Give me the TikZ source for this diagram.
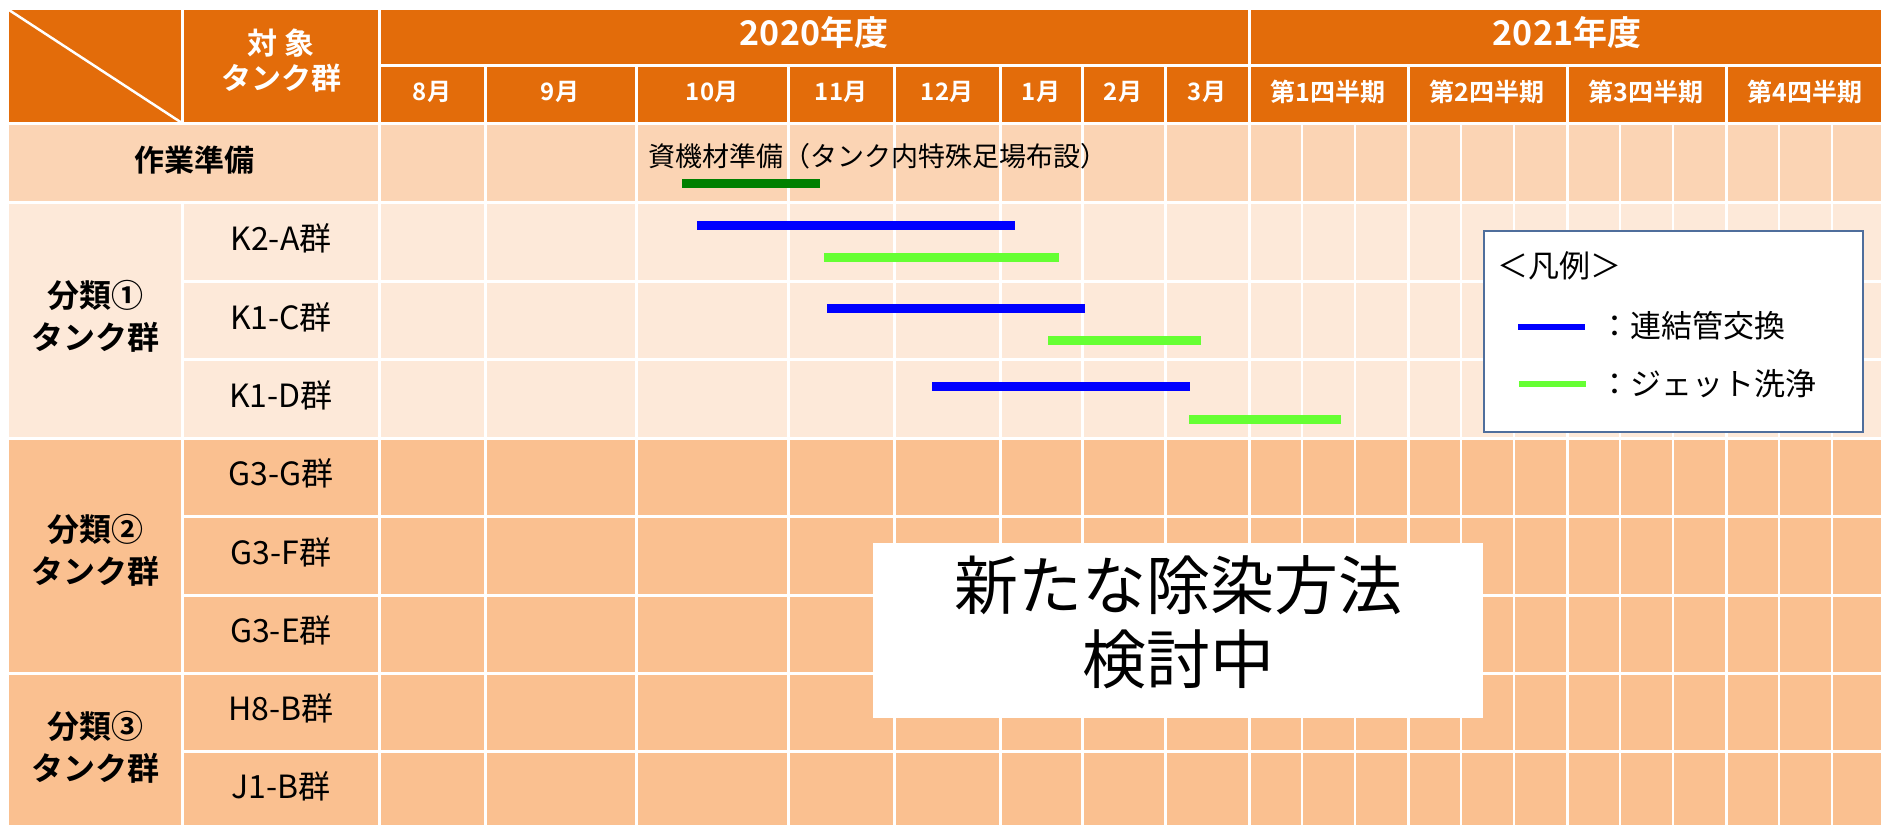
\documentclass[tikz,border=0pt]{standalone}
\usepackage{fontspec}
\setmainfont{Noto Sans CJK JP}[BoldFont={Noto Sans CJK JP Bold}]
\definecolor{hdrorange}{HTML}{E36C0A}
\definecolor{rowprep}{HTML}{FBD4B4}
\definecolor{rowone}{HTML}{FDE9D9}
\definecolor{rowtwo}{HTML}{FAC090}
\definecolor{barblue}{HTML}{0000FF}
\definecolor{bargreen}{HTML}{66FF33}
\definecolor{prepgreen}{HTML}{008000}
\definecolor{legborder}{HTML}{4F6E9C}
\begin{document}
\begin{tikzpicture}[x=1pt,y=-1pt,
  gridline/.style={white, line width=3pt},
  thinline/.style={white, line width=1.5pt},
  yeartxt/.style={text=white, font=\bfseries\fontsize{34}{38}\selectfont, inner sep=0pt},
  monthtxt/.style={text=white, font=\bfseries\fontsize{24}{28}\selectfont, inner sep=0pt},
  quartertxt/.style={text=white, font=\bfseries\fontsize{25}{28}\selectfont, inner sep=0pt},
  cattxt/.style={font=\bfseries\fontsize{32}{42}\selectfont, align=center, inner sep=0pt},
  rowtxt/.style={font=\fontsize{32}{36}\selectfont, inner sep=0pt},
  bar/.style={line width=9pt},
  legline/.style={line width=6pt},
  legtxt/.style={font=\fontsize{31}{34}\selectfont, anchor=west, inner sep=0pt}]
\useasboundingbox (0,0) rectangle (1881,825);
\clip (0,0) rectangle (1881,825);
\fill[white] (0,0) rectangle (1881,825);
% background bands
\fill[hdrorange] (9,10) rectangle (1881,123);
\fill[rowprep] (9,123) rectangle (1881,202);
\fill[rowone] (9,202) rectangle (1881,438);
\fill[rowtwo] (9,438) rectangle (1881,825);
% horizontal grid lines
\draw[gridline] (379,65) -- (1881,65);
\foreach \y in {123,202,438,673} \draw[gridline] (9,\y) -- (1881,\y);
\foreach \y in {281,359,516,595,751} \draw[gridline] (182,\y) -- (1881,\y);
% vertical grid lines
\draw[gridline] (182,10) -- (182,123);
\draw[gridline] (182,202) -- (182,825);
\foreach \x in {379,1249} \draw[gridline] (\x,10) -- (\x,825);
\foreach \x in {485,636,788,894,1000,1082,1165,1408,1567,1726} \draw[gridline] (\x,65) -- (\x,825);
\foreach \x in {1302,1355,1461,1514,1620,1673,1779,1832} \draw[thinline] (\x,123) -- (\x,825);
% diagonal
\draw[white, line width=2.5pt] (9,10) -- (182,123);
% header texts
\node[yeartxt] (y2020) at (814,33) {2020年度};
\node[yeartxt] (y2021) at (1567,33) {2021年度};
\node[monthtxt] (m8) at (432,92) {8月};
\node[monthtxt] (m9) at (560,92) {9月};
\node[monthtxt] (m10) at (712,92) {10月};
\node[monthtxt] (m11) at (841,92) {11月};
\node[monthtxt] (m12) at (947,92) {12月};
\node[monthtxt] (m1) at (1041,92) {1月};
\node[monthtxt] (m2) at (1123,92) {2月};
\node[monthtxt] (m3) at (1207,92) {3月};
\node[quartertxt] (q1) at (1328,92) {第1四半期};
\node[quartertxt] (q2) at (1487,92) {第2四半期};
\node[quartertxt] (q3) at (1646,92) {第3四半期};
\node[quartertxt] (q4) at (1805,92) {第4四半期};
\node[cattxt, text=white, font=\bfseries\fontsize{30}{35}\selectfont] (target) at (281,61) {対 象\\タンク群};
% left column
\node[cattxt, font=\bfseries\fontsize{30}{36}\selectfont] (prep) at (194,160) {作業準備};
\node[cattxt] (cat1) at (95,316) {分類①\\タンク群};
\node[cattxt] (cat2) at (95,550) {分類②\\タンク群};
\node[cattxt] (cat3) at (95,747) {分類③\\タンク群};
\node[rowtxt] (k2a) at (281,238) {K2-A群};
\node[rowtxt] (k1c) at (281,317) {K1-C群};
\node[rowtxt] (k1d) at (281,395) {K1-D群};
\node[rowtxt] (g3g) at (281,473) {G3-G群};
\node[rowtxt] (g3f) at (281,552) {G3-F群};
\node[rowtxt] (g3e) at (281,630) {G3-E群};
\node[rowtxt] (h8b) at (281,708) {H8-B群};
\node[rowtxt] (j1b) at (281,786) {J1-B群};
% prep label and bar
\node[font=\fontsize{27}{30}\selectfont, anchor=west, inner sep=0pt] (preplabel) at (648,156) {資機材準備（タンク内特殊足場布設）};
\coordinate (ps) at (682,183.5); \coordinate (pe) at (820,183.5);
\draw[bar, prepgreen] (ps) -- (pe);
% gantt bars
\coordinate (a1) at (697,225); \coordinate (a2) at (1015,225);
\coordinate (b1) at (824,257.5); \coordinate (b2) at (1059,257.5);
\coordinate (c1) at (827,308.5); \coordinate (c2) at (1085,308.5);
\coordinate (d1) at (1048,340.5); \coordinate (d2) at (1201,340.5);
\coordinate (e1) at (932,386.5); \coordinate (e2) at (1190,386.5);
\coordinate (f1) at (1189,419.5); \coordinate (f2) at (1341,419.5);
\draw[bar, barblue] (a1) -- (a2);
\draw[bar, bargreen] (b1) -- (b2);
\draw[bar, barblue] (c1) -- (c2);
\draw[bar, bargreen] (d1) -- (d2);
\draw[bar, barblue] (e1) -- (e2);
\draw[bar, bargreen] (f1) -- (f2);
% legend
\node[draw=legborder, line width=1.5pt, fill=white, minimum width=379pt, minimum height=201pt, anchor=north west, inner sep=0pt] (legend) at (1483,230) {};
\node[legtxt] (legtitle) at (1497,266) {＜凡例＞};
\coordinate (lb1) at (1518,327); \coordinate (lb2) at (1585,327);
\coordinate (lg1) at (1519,384); \coordinate (lg2) at (1586,384);
\draw[legline, barblue] (lb1) -- (lb2);
\draw[legline, bargreen] (lg1) -- (lg2);
\node[legtxt] (legblue) at (1599,326) {：連結管交換};
\node[legtxt] (leggreen) at (1599,384) {：ジェット洗浄};
% new method box
\node[fill=white, minimum width=610pt, minimum height=175pt, inner sep=0pt] (newbox) at (1178,630) {};
\node[font=\fontsize{64}{74}\selectfont, align=center, inner sep=0pt] (newmethod) at (1178,622) {新たな除染方法\\検討中};
\end{tikzpicture}
\end{document}
